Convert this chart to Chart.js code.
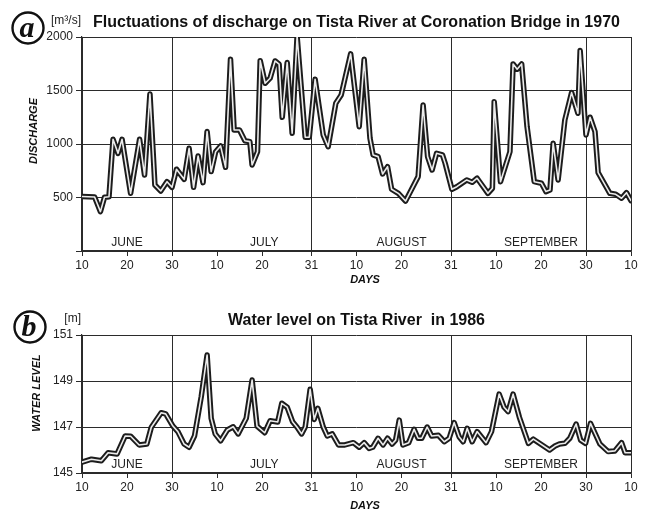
<!DOCTYPE html>
<html>
<head>
<meta charset="utf-8">
<script src="https://cdn.jsdelivr.net/npm/chart.js@4/dist/chart.umd.min.js"></script>
<style>
  html, body { margin: 0; padding: 0; background: #fff; }
  #wrap { position: relative; width: 647px; height: 511px; overflow: hidden; }
  .panel { position: absolute; left: 0; width: 647px; }
  #top { top: 0; height: 290px; }
  #bottom { top: 290px; height: 221px; }
</style>
</head>
<body>
<div id="wrap">
  <div class="panel" id="top"><canvas id="c1"></canvas></div>
  <div class="panel" id="bottom"><canvas id="c2"></canvas></div>
</div>
<script>
// Days counted from 10 June (day 0) to 10 October (day 122)
const tickDays   = [0, 10, 20, 30, 40, 51, 61, 71, 82, 92, 102, 112, 122];
const tickLabels = ['10', '20', '30', '10', '20', '31', '10', '20', '31', '10', '20', '30', '10'];
const monthEnds  = [0, 20, 51, 82, 112, 122];
const monthNames = ['JUNE', 'JULY', 'AUGUST', 'SEPTEMBER'];
const monthMid   = [10, 40.5, 71, 102];

// Panel a: discharge at Coronation Bridge, 1970 [m³/s]
const dischargeDays = [0, 2.8, 4.1, 5.0, 6.0, 6.9, 8.0, 8.9, 10.8, 12.8, 13.9, 15.1, 16.2, 17.5, 18.9, 20.0,
  21.0, 22.7, 23.8, 24.8, 25.8, 26.9, 27.8, 28.7, 29.7, 30.8, 31.9, 33.0, 33.8, 35.0, 36.2, 37.3, 37.8,
  39.0, 39.6, 40.7, 41.8, 42.9, 43.8, 44.5, 45.6, 46.7, 47.8, 49.6, 50.5, 51.8, 53.6, 54.7, 56.4, 57.6,
  59.7, 61.6, 62.7, 64.0, 64.7, 65.8, 66.8, 67.9, 68.8, 70.3, 71.9, 74.7, 75.8, 76.8, 77.8, 78.8, 80.1,
  80.7, 82.2, 83.3, 85.5, 86.7, 87.8, 90.2, 91.2, 91.6, 93.0, 95.1, 95.8, 96.7, 97.7, 98.9, 100.5, 102.1,
  103.1, 104.0, 104.7, 105.8, 107.3, 108.8, 110.2, 110.7, 112.0, 112.9, 114.0, 114.7, 117.3, 118.6, 119.9,
  121.0, 122.0];
const discharge = [510, 505, 368, 502, 507, 1044, 913, 1044, 539, 1044, 710, 1468, 617, 561, 648, 595,
  764, 670, 960, 595, 888, 639, 1116, 742, 928, 982, 782, 1792, 1131, 1131, 1031, 1022, 804,
  928, 1779, 1568, 1615, 1776, 1746, 1250, 1761, 1100, 2005, 1063, 1063, 1605, 1085, 975, 1381, 1459,
  1842, 1162, 1792, 1053, 898, 882, 720, 788, 577, 539, 467, 695, 1365, 882, 757, 913, 898,
  820, 577, 601, 664, 642, 680, 539, 586, 1396, 648, 928, 1748, 1699, 1748, 1162, 648, 633,
  555, 570, 1007, 664, 1225, 1480, 1287, 1873, 1085, 1250, 1116, 732, 539, 530, 493,
  545, 470];
const dischargeTicks = [500, 1000, 1500, 2000];

// Panel b: water level, 1986 [m]
const levelDays = [0, 2.1, 4.3, 5.8, 7.8, 9.6, 10.8, 12.7, 14.4, 15.4, 17.6, 18.6, 20.2, 21.3, 22.7, 23.8,
  25.0, 26.5, 27.8, 28.7, 29.6, 30.8, 32.3, 33.6, 34.7, 36.5, 37.8, 38.9, 40.6, 41.8, 43.5, 44.4, 45.6,
  46.8, 47.8, 48.8, 49.6, 50.7, 51.6, 52.4, 53.6, 54.5, 55.6, 57.0, 58.4, 60.3, 61.6, 62.7, 63.8, 64.6,
  65.8, 66.9, 67.9, 68.9, 69.7, 70.5, 71.3, 72.6, 73.8, 74.7, 75.5, 76.7, 77.7, 79.2, 80.5, 81.6, 82.7,
  83.8, 84.7, 85.6, 86.7, 87.8, 89.8, 91.0, 92.7, 93.8, 94.7, 95.8, 97.2, 99.2, 100.3, 103.9, 105.1,
  106.1, 107.3, 108.4, 109.8, 110.8, 111.9, 113.0, 115.1, 116.9, 118.4, 119.9, 120.7, 122.0];
const waterLevel = [145.47, 145.6, 145.53, 145.88, 145.83, 146.61, 146.6, 146.22, 146.26, 146.99, 147.62, 147.57, 147.04, 146.8, 146.26, 146.12,
  146.61, 148.32, 150.13, 147.38, 146.7, 146.4, 146.87, 147.01, 146.7, 147.38, 149.04, 147.04, 146.75, 147.27, 147.22, 148.03, 147.86,
  147.23, 146.99, 146.7, 147.0, 148.64, 147.33, 147.81, 147.0, 146.61, 146.7, 146.22, 146.22, 146.32, 146.12, 146.32, 146.07, 146.12,
  146.51, 146.22, 146.51, 146.26, 146.43, 147.3, 146.22, 146.32, 146.9, 146.51, 146.51, 147.0, 146.61, 146.64, 146.36, 146.51, 147.19,
  146.58, 146.36, 146.94, 146.36, 146.8, 146.32, 146.8, 148.43, 147.86, 147.67, 148.43, 147.42, 146.29, 146.47, 146.0, 146.17,
  146.26, 146.29, 146.51, 147.13, 146.43, 146.29, 147.16, 146.26, 145.93, 145.96, 146.32, 145.88, 145.88];
const levelTicks = [145, 147, 149, 151];

Chart.defaults.font.family = "'Liberation Sans', Arial, sans-serif";
Chart.defaults.font.size = 12;
Chart.defaults.color = '#222';

const INK = '#2b2b2b';

// Text decorations: panel letter, units, title, month names, axis titles
const decorPlugin = {
  id: 'decor',
  afterDraw(chart, args, o) {
    const ctx = chart.ctx;
    const area = chart.chartArea;
    const xs = chart.scales.x;
    ctx.save();
    // panel letter in a circle
    ctx.beginPath();
    ctx.arc(o.badgeX, o.badgeY, 15.5, 0, Math.PI * 2);
    ctx.lineWidth = 2.4;
    ctx.strokeStyle = '#111';
    ctx.stroke();
    ctx.fillStyle = '#111';
    ctx.font = "bold italic 30px 'Liberation Serif', serif";
    ctx.textAlign = 'center';
    ctx.textBaseline = 'middle';
    ctx.fillText(o.letter, o.badgeX - 1, o.badgeY + 1);
    // units
    ctx.font = "12px 'Liberation Sans', Arial, sans-serif";
    ctx.textAlign = 'right';
    ctx.fillStyle = '#222';
    ctx.fillText(o.unit, 81, o.titleY - 2);
    // title
    ctx.font = "bold 16px 'Liberation Sans', Arial, sans-serif";
    ctx.textAlign = 'center';
    ctx.fillStyle = '#111';
    ctx.fillText(o.title, (area.left + area.right) / 2, o.titleY);
    // month names inside the plot
    ctx.font = "12px 'Liberation Sans', Arial, sans-serif";
    ctx.fillStyle = '#222';
    monthNames.forEach((m, i) => {
      ctx.fillText(m, xs.getPixelForValue(monthMid[i]), area.bottom - 8);
    });
    // x-axis title
    ctx.font = "bold italic 11px 'Liberation Sans', Arial, sans-serif";
    ctx.fillStyle = '#111';
    ctx.fillText('DAYS', 365, o.daysY);
    // y-axis title
    ctx.translate(o.yTitleX, o.yTitleY);
    ctx.rotate(-Math.PI / 2);
    ctx.fillText(o.yTitle, 0, 0);
    ctx.restore();
  }
};

function makeChart(id, days, values, yMin, yMax, yTicks, fit, decor) {
  const pts = days.map((d, i) => ({ x: d, y: values[i] }));
  const yAll = yTicks.includes(yMin) ? yTicks : [yMin].concat(yTicks);
  return new Chart(document.getElementById(id), {
    type: 'line',
    data: {
      datasets: [
        // light centre stroke, listed first so it is painted on top
        { data: pts, borderColor: '#ececec', borderWidth: 1.6, pointRadius: 0, tension: 0,
          borderJoinStyle: 'round', borderCapStyle: 'round' },
        // dark outer stroke
        { data: pts, borderColor: '#1c1c1c', borderWidth: 5.5, pointRadius: 0, tension: 0,
          borderJoinStyle: 'round', borderCapStyle: 'round' }
      ]
    },
    options: {
      responsive: true,
      maintainAspectRatio: false,
      animation: false,
      events: [],
      layout: { padding: { left: 0, right: 16, top: fit.top, bottom: 0 } },
      plugins: { legend: { display: false }, tooltip: { enabled: false }, decor: decor },
      scales: {
        x: {
          type: 'linear',
          min: 0, max: 122,
          afterBuildTicks: (axis) => { axis.ticks = tickDays.map(v => ({ value: v })); },
          afterFit: (scale) => { scale.height = fit.xHeight; },
          ticks: {
            autoSkip: false, maxRotation: 0, padding: 2,
            callback: (v) => tickLabels[tickDays.indexOf(v)]
          },
          grid: {
            color: (c) => (c.tick && monthEnds.includes(c.tick.value)) ? INK : 'transparent',
            tickColor: INK, tickLength: 5, lineWidth: 1
          },
          border: { color: INK, width: 1.2 }
        },
        y: {
          min: yMin, max: yMax,
          afterBuildTicks: (axis) => { axis.ticks = yAll.map(v => ({ value: v })); },
          afterFit: (scale) => { scale.width = 82; },
          ticks: {
            autoSkip: false, padding: 3,
            callback: (v) => yTicks.includes(v) ? String(v) : ''
          },
          grid: { color: INK, tickColor: INK, tickLength: 6, lineWidth: 1 },
          border: { color: INK, width: 1.2 }
        }
      }
    },
    plugins: [decorPlugin]
  });
}

makeChart('c1', dischargeDays, discharge, 0, 2000, dischargeTicks,
  { top: 37, xHeight: 39 },
  { letter: 'a', badgeX: 28, badgeY: 28, unit: '[m³/s]', titleY: 23,
    title: 'Fluctuations of discharge on Tista River at Coronation Bridge in 1970',
    daysY: 280, yTitle: 'DISCHARGE', yTitleX: 34, yTitleY: 131 });

makeChart('c2', levelDays, waterLevel, 145, 151, levelTicks,
  { top: 45, xHeight: 38 },
  { letter: 'b', badgeX: 30, badgeY: 37, unit: '[m]', titleY: 31,
    title: 'Water level on Tista River  in 1986',
    daysY: 216, yTitle: 'WATER LEVEL', yTitleX: 37, yTitleY: 103 });
</script>
</body>
</html>
